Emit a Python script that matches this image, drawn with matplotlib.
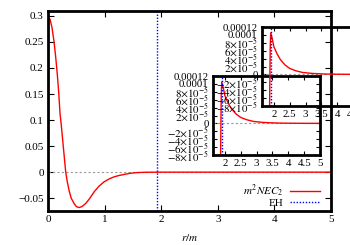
import matplotlib
matplotlib.use('Agg')
import matplotlib.pyplot as plt

# main curve (r/m, m^2 NEC_2)
r_main = [0.0, 0.035, 0.07, 0.106, 0.135, 0.165, 0.19, 0.212, 0.235, 0.254,
          0.285, 0.313, 0.34, 0.372, 0.41, 0.46, 0.5, 0.549, 0.6, 0.667,
          0.74, 0.814, 0.9, 0.99, 1.08, 1.168, 1.25, 1.345, 1.43, 1.52,
          1.6, 1.7, 1.8, 2.0, 2.5, 3.0, 4.0, 5.0]
nec_main = [0.296, 0.294, 0.278, 0.251, 0.222, 0.187, 0.152, 0.113, 0.09, 0.068,
            0.032, 0.0, -0.018, -0.035, -0.05, -0.060, -0.066, -0.068, -0.066, -0.060,
            -0.050, -0.038, -0.027, -0.0186, -0.013, -0.009, -0.0065, -0.0044, -0.0026, -0.0013,
            -0.0007, -0.0003, -0.0001, 0.0, 0.0, 0.0, 0.0, 0.0]

# zoomed curve near the horizon (same function, finer scale)
r_zoom = [1.6, 1.75, 1.82, 1.85, 1.865, 1.875, 1.885, 1.9, 1.95, 2.0,
          2.1, 2.2, 2.35, 2.5, 2.7, 2.9, 3.2, 3.6, 4.0, 4.5, 5.0]
nec_zoom = [-2e-3, -9e-4, -4e-4, -2e-4, -8e-5, 0.0, 7e-5, 1.05e-4, 9e-5, 7e-5,
            5.2e-5, 3.8e-5, 2.4e-5, 1.5e-5, 9e-6, 5e-6, 2.5e-6, 1e-6, 5e-7, 2e-7, 1e-7]

r_eh = 1.92

main_xticks = [0, 1, 2, 3, 4, 5]
main_yticks = [-0.05, 0, 0.05, 0.1, 0.15, 0.2, 0.25, 0.3]
main_ylabels = ['\u22120.05', '0', '0.05', '0.1', '0.15', '0.2', '0.25', '0.3']
zoom_xticks = [2, 2.5, 3, 3.5, 4, 4.5, 5]
zoom_xlabels = ['2', '2.5', '3', '3.5', '4', '4.5', '5']
zoom_yticks = [-8e-5, -6e-5, -4e-5, -2e-5, 0, 2e-5, 4e-5, 6e-5, 8e-5, 1e-4, 1.2e-4]
zoom_ylabels = [r'$-8{\times}10^{-5}$', r'$-6{\times}10^{-5}$', r'$-4{\times}10^{-5}$',
                r'$-2{\times}10^{-5}$', '0', r'$2{\times}10^{-5}$', r'$4{\times}10^{-5}$',
                r'$6{\times}10^{-5}$', r'$8{\times}10^{-5}$', '0.0001', '0.00012']

plt.rcParams['font.family'] = ['Liberation Serif', 'DejaVu Serif']
plt.rcParams['mathtext.fontset'] = 'stix'

W, H = 350, 245
fig = plt.figure(figsize=(W / 100, H / 100), dpi=100)


def box(x0, y0, x1, y1):
    return [x0 / W, 1 - y1 / H, (x1 - x0) / W, (y1 - y0) / H]


def style(a, size, ticklen):
    for s in a.spines.values():
        s.set_linewidth(2.0)
    a.tick_params(direction='in', top=True, right=True, length=ticklen,
                  width=0.8, labelsize=size, pad=3)


ax = fig.add_axes(box(48, 10.7, 331, 210.7))
ax.axhline(0, color='#999999', lw=0.8, ls=(0, (2, 2)))
ax.plot(r_main, nec_main, color='red', lw=1.0, label=r'$m^2NEC_2$')
ax.axvline(r_eh, color='blue', lw=1.0, ls=(0, (1, 1.2)), label='EH')
ax.set_xlim(0, 5)
ax.set_ylim(-0.074, 0.31)
ax.set_xticks(main_xticks)
ax.set_yticks(main_yticks)
ax.set_yticklabels(main_ylabels)
ax.set_xlabel(r'$r/m$', fontsize=8, labelpad=6)
style(ax, 8, 4)
ax.legend(loc='lower right', bbox_to_anchor=(320 / W, 1 - 208 / H),
          bbox_transform=fig.transFigure, frameon=False, markerfirst=False,
          fontsize=8, handlelength=2.7, handletextpad=0.6, labelspacing=-0.1,
          borderpad=0, borderaxespad=0)

# two identical zoom panels, the second shifted up and right (as in the original)
for x0, y0 in [(213, 76), (262, 27)]:
    ins = fig.add_axes(box(x0, y0, x0 + 107, y0 + 79))
    ins.patch.set_alpha(0)
    ins.axhline(0, color='#999999', lw=0.8, ls=(0, (2, 2)))
    ins.plot(r_zoom, nec_zoom, color='red', lw=1.0)
    ins.axvline(r_eh, color='blue', lw=1.0, ls=(0, (1, 1.2)))
    ins.set_xlim(1.625, 5)
    ins.set_ylim(-8e-5, 1.2e-4)
    ins.set_xticks(zoom_xticks)
    ins.set_xticklabels(zoom_xlabels)
    ins.set_yticks(zoom_yticks)
    ins.set_yticklabels(zoom_ylabels)
    style(ins, 7.8, 3)

fig.savefig('out.png', dpi=100)
